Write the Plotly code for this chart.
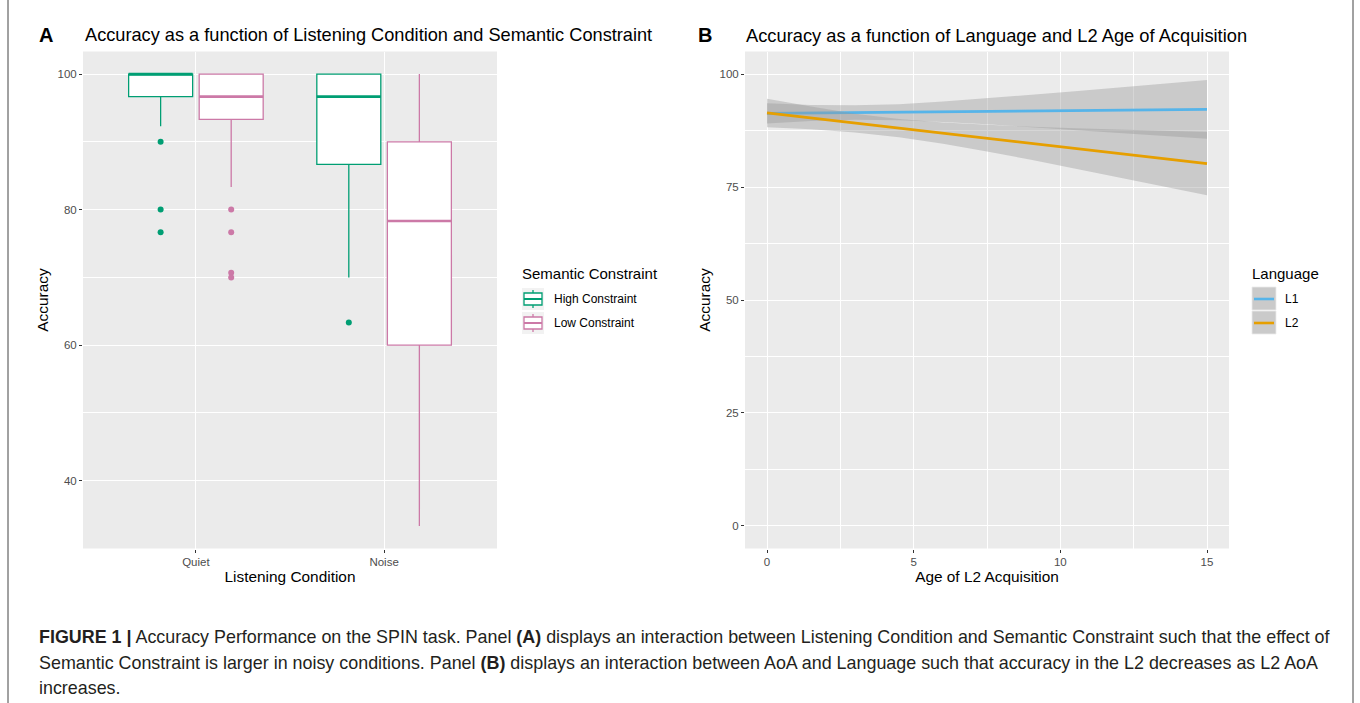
import plotly.graph_objects as go

W, H = 1360, 703

# ---------------- Panel A data (box-plot summaries) ----------------
conditions = ["Quiet", "Noise"]
constraint_names = ["High Constraint", "Low Constraint"]

high_q1 = [96.67, 86.67]
high_median = [100.0, 96.67]
high_q3 = [100.0, 100.0]
high_lower = [92.3, 70.0]
high_upper = [100.0, 100.0]
high_outliers = [[90.0, 80.0, 76.67], [63.33]]

low_q1 = [93.33, 60.0]
low_median = [96.67, 78.33]
low_q3 = [100.0, 90.0]
low_lower = [83.33, 33.33]
low_upper = [100.0, 100.0]
low_outliers = [[80.0, 76.67, 70.67, 70.0], []]

# ---------------- Panel B data (fitted lines and confidence bands) ----------------
aoa = [0, 1.5, 3, 4.5, 6, 7.5, 9, 10.5, 12, 13.5, 15]
l1_fit = [91.30, 91.39, 91.48, 91.57, 91.66, 91.75, 91.84, 91.93, 92.02, 92.11, 92.20]
l1_lower = [89.05, 89.61, 89.88, 89.79, 89.41, 88.90, 88.31, 87.68, 87.03, 86.37, 85.70]
l1_upper = [93.55, 93.17, 93.08, 93.35, 93.91, 94.61, 95.38, 96.18, 97.01, 97.85, 98.70]
l2_fit = [91.40, 90.28, 89.16, 88.04, 86.92, 85.80, 84.68, 83.56, 82.44, 81.32, 80.20]
l2_lower = [88.25, 87.77, 87.07, 86.02, 84.58, 82.88, 81.03, 79.12, 77.17, 75.19, 73.20]
l2_upper = [94.56, 92.80, 91.25, 90.06, 89.26, 88.73, 88.33, 88.00, 87.71, 87.45, 87.20]
language_names = ["L1", "L2"]

# ---------------- styling ----------------
GREEN, PINK = "#009E73", "#CC79A7"
BLUE, ORANGE = "#56B4E9", "#E69F00"
FONT = "Liberation Sans, Arial, sans-serif"
BOX_W = 0.34
DODGE = 0.1875


def xp(px):
    return px / W


def yp(py):
    return 1 - py / H


fig = go.Figure()

groups = [
    (GREEN, high_q1, high_median, high_q3, high_lower, high_upper, high_outliers, -DODGE, constraint_names[0]),
    (PINK, low_q1, low_median, low_q3, low_lower, low_upper, low_outliers, DODGE, constraint_names[1]),
]
for color, q1, med, q3, lo, up, outl, off, name in groups:
    pos = [i + 1 + off for i in range(len(conditions))]
    fig.add_trace(go.Box(
        x=pos, q1=q1, median=med, q3=q3, lowerfence=lo, upperfence=up,
        width=BOX_W, fillcolor="white", line=dict(color=color, width=1.3),
        whiskerwidth=0, boxpoints=False, name=name, showlegend=False,
        hoverinfo="skip", xaxis="x", yaxis="y"))
    # thicker median line, as ggplot draws it
    mx, my = [], []
    for p, m in zip(pos, med):
        mx += [p - BOX_W / 2, p + BOX_W / 2, None]
        my += [m, m, None]
    fig.add_trace(go.Scatter(x=mx, y=my, mode="lines", line=dict(color=color, width=2.6),
                             showlegend=False, hoverinfo="skip", xaxis="x", yaxis="y"))
    ox, oy = [], []
    for p, vals in zip(pos, outl):
        ox += [p] * len(vals)
        oy += vals
    fig.add_trace(go.Scatter(x=ox, y=oy, mode="markers", marker=dict(color=color, size=6),
                             showlegend=False, hoverinfo="skip", xaxis="x", yaxis="y"))

# Panel B ribbons & lines (ggplot order: ribbon, line per group)
for lo, up, fit, color, name in [(l1_lower, l1_upper, l1_fit, BLUE, "L1"),
                                 (l2_lower, l2_upper, l2_fit, ORANGE, "L2")]:
    fig.add_trace(go.Scatter(x=aoa + aoa[::-1], y=up + lo[::-1], fill="toself",
                             fillcolor="rgba(153,153,153,0.4)", line=dict(width=0),
                             mode="lines", showlegend=False, hoverinfo="skip",
                             xaxis="x2", yaxis="y2"))
    fig.add_trace(go.Scatter(x=aoa, y=fit, mode="lines", line=dict(color=color, width=2.8),
                             name=name, showlegend=False, xaxis="x2", yaxis="y2"))

tickfont = dict(family=FONT, size=11.5, color="#4D4D4D")
titlefont = dict(family=FONT, size=15.4, color="black")
common = dict(showgrid=True, gridcolor="white", gridwidth=1.2, zeroline=False,
              ticks="outside", ticklen=3, tickcolor="#333333", tickwidth=1,
              tickfont=tickfont, showline=False)

Y_DOM = [yp(548.5), yp(51.5)]
fig.update_layout(
    width=W, height=H, margin=dict(l=0, r=0, t=0, b=0),
    paper_bgcolor="white", plot_bgcolor="#EBEBEB", showlegend=False,
    xaxis=dict(domain=[xp(83), xp(497)], range=[0.4, 2.6], tickmode="array",
               tickvals=[1, 2], ticktext=conditions,
               title=dict(text="Listening Condition", font=titlefont, standoff=3), **common),
    yaxis=dict(domain=Y_DOM, range=[30.0, 103.33], tickmode="linear", tick0=0, dtick=20,
               minor=dict(dtick=10, tick0=0, showgrid=True, gridcolor="white", gridwidth=0.6),
               title=dict(text="Accuracy", font=titlefont, standoff=5), **common),
    xaxis2=dict(domain=[xp(745), xp(1229)], range=[-0.75, 15.75], tickmode="linear",
                tick0=0, dtick=5, anchor="y2",
                minor=dict(dtick=2.5, tick0=0, showgrid=True, gridcolor="white", gridwidth=0.6),
                title=dict(text="Age of L2 Acquisition", font=titlefont, standoff=3), **common),
    yaxis2=dict(domain=Y_DOM, range=[-5, 105], tickmode="linear", tick0=0, dtick=25,
                anchor="x2",
                minor=dict(dtick=12.5, tick0=0, showgrid=True, gridcolor="white", gridwidth=0.6),
                title=dict(text="Accuracy", font=titlefont, standoff=5), **common),
)

shapes = []
ann = []

# frame lines of the figure
for x in [8, 1353]:
    shapes.append(dict(type="line", xref="paper", yref="paper", x0=xp(x), x1=xp(x), y0=0, y1=1,
                       line=dict(color="#444444", width=1)))

# Panel labels and titles
ann.append(dict(text="<b>A</b>", x=xp(37), y=yp(35), xanchor="left", yanchor="middle",
                font=dict(family=FONT, size=20, color="black")))
ann.append(dict(text="Accuracy as a function of Listening Condition and Semantic Constraint",
                x=xp(83), y=yp(35), xanchor="left", yanchor="middle",
                font=dict(family=FONT, size=18.2, color="black")))
ann.append(dict(text="<b>B</b>", x=xp(696), y=yp(35), xanchor="left", yanchor="middle",
                font=dict(family=FONT, size=20, color="black")))
ann.append(dict(text="Accuracy as a function of Language and L2 Age of Acquisition",
                x=xp(744), y=yp(35), xanchor="left", yanchor="middle",
                font=dict(family=FONT, size=18.3, color="black")))

# Legend A (ggplot style)
ann.append(dict(text="Semantic Constraint", x=xp(520), y=yp(273), xanchor="left", yanchor="middle",
                font=dict(family=FONT, size=15, color="black")))
for k, (name, color) in enumerate(zip(constraint_names, [GREEN, PINK])):
    cy = 299 + 24 * k
    shapes.append(dict(type="rect", xref="paper", yref="paper", x0=xp(522), x1=xp(544),
                       y0=yp(cy - 11), y1=yp(cy + 11), fillcolor="#F2F2F2", line=dict(width=0)))
    shapes.append(dict(type="line", xref="paper", yref="paper", x0=xp(533), x1=xp(533),
                       y0=yp(cy - 9), y1=yp(cy + 9), line=dict(color=color, width=1.3)))
    shapes.append(dict(type="rect", xref="paper", yref="paper", x0=xp(524), x1=xp(542),
                       y0=yp(cy - 6), y1=yp(cy + 6), fillcolor="white",
                       line=dict(color=color, width=1.3)))
    shapes.append(dict(type="line", xref="paper", yref="paper", x0=xp(524), x1=xp(542),
                       y0=yp(cy), y1=yp(cy), line=dict(color=color, width=2)))
    ann.append(dict(text=name, x=xp(552), y=yp(cy), xanchor="left", yanchor="middle",
                    font=dict(family=FONT, size=12, color="black")))

# Legend B
ann.append(dict(text="Language", x=xp(1250), y=yp(273), xanchor="left", yanchor="middle",
                font=dict(family=FONT, size=15, color="black")))
for k, (name, color) in enumerate(zip(language_names, [BLUE, ORANGE])):
    cy = 299 + 24 * k
    shapes.append(dict(type="rect", xref="paper", yref="paper", x0=xp(1252), x1=xp(1276),
                       y0=yp(cy - 12), y1=yp(cy + 11), fillcolor="#CACACA",
                       line=dict(color="#EBEBEB", width=0.8)))
    shapes.append(dict(type="line", xref="paper", yref="paper", x0=xp(1254), x1=xp(1274),
                       y0=yp(cy), y1=yp(cy), line=dict(color=color, width=2.6)))
    ann.append(dict(text=name, x=xp(1283), y=yp(cy), xanchor="left", yanchor="middle",
                    font=dict(family=FONT, size=12, color="black")))

# Caption
CAP = dict(family="Liberation Sans, Arial, sans-serif", size=17.9, color="#231F20")
cap_lines = [
    "<b>FIGURE 1 |</b> Accuracy Performance on the SPIN task. Panel <b>(A)</b> displays an interaction "
    "between Listening Condition and Semantic Constraint such that the effect of",
    "Semantic Constraint is larger in noisy conditions. Panel <b>(B)</b> displays an interaction between "
    "AoA and Language such that accuracy in the L2 decreases as L2 AoA",
    "increases.",
]
for k, line in enumerate(cap_lines):
    ann.append(dict(text=line, x=xp(37), y=yp(637 + 25.5 * k), xanchor="left", yanchor="middle",
                    font=CAP))

for a in ann:
    a.update(xref="paper", yref="paper", showarrow=False)
fig.update_layout(annotations=ann, shapes=shapes)

fig.write_html("out.html", config={"displayModeBar": False},
               post_script="document.body.style.margin='0';")
